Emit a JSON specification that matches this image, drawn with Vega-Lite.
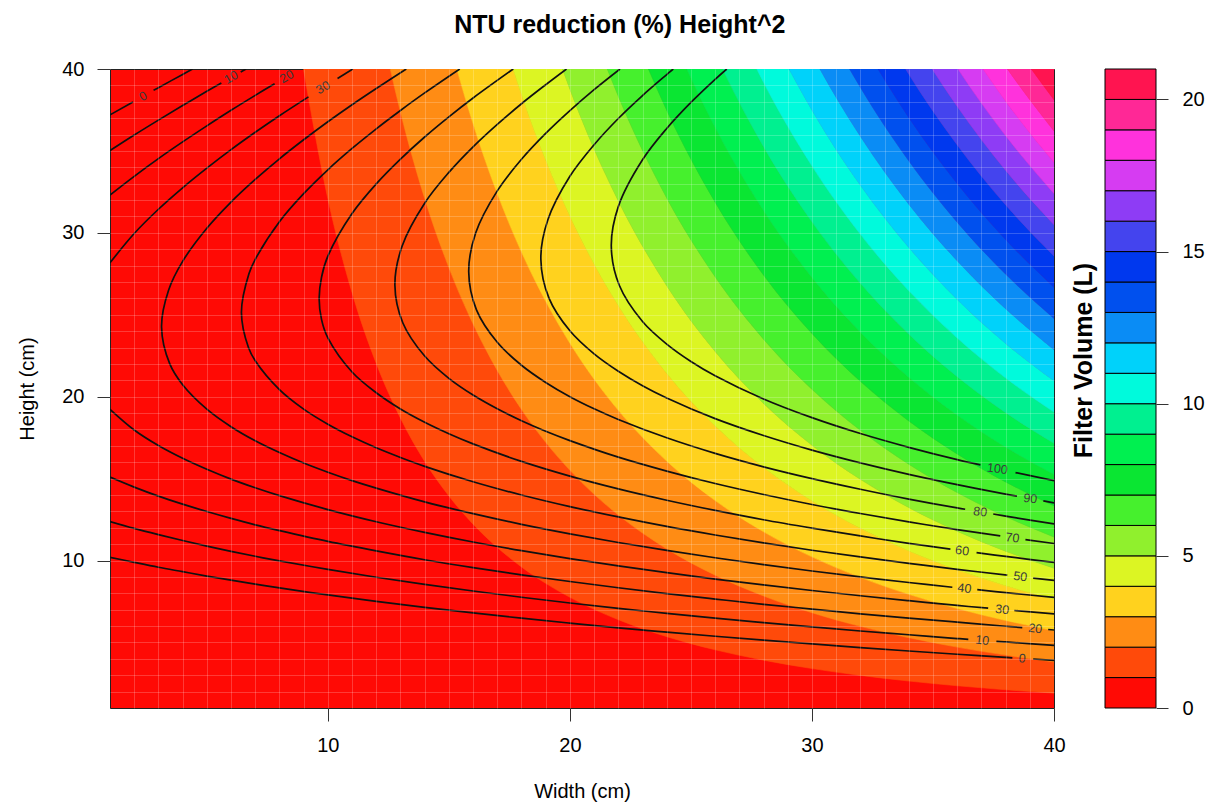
{
"$schema":"https://vega.github.io/schema/vega-lite/v6.json",
"padding":{"left":17,"top":12,"right":5,"bottom":5},
"config":{"font":"Liberation Sans","view":{"stroke":null}},
"title":{"text":"NTU reduction (%) Height^2","fontSize":25,"fontWeight":"bold","color":"#000000","anchor":"middle","offset":21,"dx":9},
"spacing":51,
"bounds":"flush",
"datasets":{
"bands":[
{"b":0,"w":9,"t":39.91},{"b":1,"w":9,"t":39.91},{"b":2,"w":9,"t":39.91},
{"b":0,"w":10,"t":32.08},{"b":1,"w":10,"t":32.08},{"b":2,"w":10,"t":32.08},
{"b":0,"w":11,"t":26.35},{"b":1,"w":11,"t":26.35},{"b":2,"w":11,"t":26.35},{"b":3,"w":11,"t":26.35},
{"b":0,"w":12,"t":22.03},{"b":1,"w":12,"t":22.03},{"b":2,"w":12,"t":22.03},{"b":3,"w":12,"t":22.03},
{"b":0,"w":13,"t":18.69},{"b":1,"w":13,"t":18.69},{"b":2,"w":13,"t":18.69},{"b":3,"w":13,"t":18.69},{"b":4,"w":13,"t":18.69},
{"b":0,"w":14,"t":16.05},{"b":1,"w":14,"t":16.05},{"b":2,"w":14,"t":16.05},{"b":3,"w":14,"t":16.05},{"b":4,"w":14,"t":16.05},
{"b":0,"w":15,"t":13.94},{"b":1,"w":15,"t":13.94},{"b":2,"w":15,"t":13.94},{"b":3,"w":15,"t":13.94},{"b":4,"w":15,"t":13.94},{"b":5,"w":15,"t":13.94},
{"b":0,"w":16,"t":12.22},{"b":1,"w":16,"t":12.22},{"b":2,"w":16,"t":12.22},{"b":3,"w":16,"t":12.22},{"b":4,"w":16,"t":12.22},{"b":5,"w":16,"t":12.22},{"b":6,"w":16,"t":12.22},
{"b":0,"w":17,"t":10.8},{"b":1,"w":17,"t":10.8},{"b":2,"w":17,"t":10.8},{"b":3,"w":17,"t":10.8},{"b":4,"w":17,"t":10.8},{"b":5,"w":17,"t":10.8},{"b":6,"w":17,"t":10.8},{"b":7,"w":17,"t":10.8},
{"b":0,"w":18,"t":9.608},{"b":1,"w":18,"t":9.608},{"b":2,"w":18,"t":9.608},{"b":3,"w":18,"t":9.608},{"b":4,"w":18,"t":9.608},{"b":5,"w":18,"t":9.608},{"b":6,"w":18,"t":9.608},{"b":7,"w":18,"t":9.608},{"b":8,"w":18,"t":9.608},
{"b":0,"w":19,"t":8.607},{"b":1,"w":19,"t":8.607},{"b":2,"w":19,"t":8.607},{"b":3,"w":19,"t":8.607},{"b":4,"w":19,"t":8.607},{"b":5,"w":19,"t":8.607},{"b":6,"w":19,"t":8.607},{"b":7,"w":19,"t":8.607},{"b":8,"w":19,"t":8.607},{"b":9,"w":19,"t":8.607},
{"b":0,"w":20,"t":7.754},{"b":1,"w":20,"t":7.754},{"b":2,"w":20,"t":7.754},{"b":3,"w":20,"t":7.754},{"b":4,"w":20,"t":7.754},{"b":5,"w":20,"t":7.754},{"b":6,"w":20,"t":7.754},{"b":7,"w":20,"t":7.754},{"b":8,"w":20,"t":7.754},{"b":9,"w":20,"t":7.754},{"b":10,"w":20,"t":7.754},
{"b":0,"w":21,"t":7.022},{"b":1,"w":21,"t":7.022},{"b":2,"w":21,"t":7.022},{"b":3,"w":21,"t":7.022},{"b":4,"w":21,"t":7.022},{"b":5,"w":21,"t":7.022},{"b":6,"w":21,"t":7.022},{"b":7,"w":21,"t":7.022},{"b":8,"w":21,"t":7.022},{"b":9,"w":21,"t":7.022},{"b":10,"w":21,"t":7.022},{"b":11,"w":21,"t":7.022},
{"b":0,"w":22,"t":6.389},{"b":1,"w":22,"t":6.389},{"b":2,"w":22,"t":6.389},{"b":3,"w":22,"t":6.389},{"b":4,"w":22,"t":6.389},{"b":5,"w":22,"t":6.389},{"b":6,"w":22,"t":6.389},{"b":7,"w":22,"t":6.389},{"b":8,"w":22,"t":6.389},{"b":9,"w":22,"t":6.389},{"b":10,"w":22,"t":6.389},{"b":11,"w":22,"t":6.389},{"b":12,"w":22,"t":6.389},
{"b":0,"w":24,"t":5.355},{"b":1,"w":24,"t":5.355},{"b":2,"w":24,"t":5.355},{"b":3,"w":24,"t":5.355},{"b":4,"w":24,"t":5.355},{"b":5,"w":24,"t":5.355},{"b":6,"w":24,"t":5.355},{"b":7,"w":24,"t":5.355},{"b":8,"w":24,"t":5.355},{"b":9,"w":24,"t":5.355},{"b":10,"w":24,"t":5.355},{"b":11,"w":24,"t":5.355},{"b":12,"w":24,"t":5.355},{"b":13,"w":24,"t":5.355},{"b":14,"w":24,"t":5.355},
{"b":0,"w":26,"t":4.553},{"b":1,"w":26,"t":4.553},{"b":2,"w":26,"t":4.553},{"b":3,"w":26,"t":4.553},{"b":4,"w":26,"t":4.553},{"b":5,"w":26,"t":4.553},{"b":6,"w":26,"t":4.553},{"b":7,"w":26,"t":4.553},{"b":8,"w":26,"t":4.553},{"b":9,"w":26,"t":4.553},{"b":10,"w":26,"t":4.553},{"b":11,"w":26,"t":4.553},{"b":12,"w":26,"t":4.553},{"b":13,"w":26,"t":4.553},{"b":14,"w":26,"t":4.553},{"b":15,"w":26,"t":4.553},{"b":16,"w":26,"t":4.553},{"b":17,"w":26,"t":4.553},
{"b":0,"w":28,"t":3.918},{"b":1,"w":28,"t":3.918},{"b":2,"w":28,"t":3.918},{"b":3,"w":28,"t":3.918},{"b":4,"w":28,"t":3.918},{"b":5,"w":28,"t":3.918},{"b":6,"w":28,"t":3.918},{"b":7,"w":28,"t":3.918},{"b":8,"w":28,"t":3.918},{"b":9,"w":28,"t":3.918},{"b":10,"w":28,"t":3.918},{"b":11,"w":28,"t":3.918},{"b":12,"w":28,"t":3.918},{"b":13,"w":28,"t":3.918},{"b":14,"w":28,"t":3.918},{"b":15,"w":28,"t":3.918},{"b":16,"w":28,"t":3.918},{"b":17,"w":28,"t":3.918},{"b":18,"w":28,"t":3.918},{"b":19,"w":28,"t":3.918},{"b":20,"w":28,"t":3.918},
{"b":0,"w":30,"t":3.408},{"b":1,"w":30,"t":3.408},{"b":2,"w":30,"t":3.408},{"b":3,"w":30,"t":3.408},{"b":4,"w":30,"t":3.408},{"b":5,"w":30,"t":3.408},{"b":6,"w":30,"t":3.408},{"b":7,"w":30,"t":3.408},{"b":8,"w":30,"t":3.408},{"b":9,"w":30,"t":3.408},{"b":10,"w":30,"t":3.408},{"b":11,"w":30,"t":3.408},{"b":12,"w":30,"t":3.408},{"b":13,"w":30,"t":3.408},{"b":14,"w":30,"t":3.408},{"b":15,"w":30,"t":3.408},{"b":16,"w":30,"t":3.408},{"b":17,"w":30,"t":3.408},{"b":18,"w":30,"t":3.408},{"b":19,"w":30,"t":3.408},{"b":20,"w":30,"t":3.408},
{"b":0,"w":32,"t":2.991},{"b":1,"w":32,"t":2.991},{"b":2,"w":32,"t":2.991},{"b":3,"w":32,"t":2.991},{"b":4,"w":32,"t":2.991},{"b":5,"w":32,"t":2.991},{"b":6,"w":32,"t":2.991},{"b":7,"w":32,"t":2.991},{"b":8,"w":32,"t":2.991},{"b":9,"w":32,"t":2.991},{"b":10,"w":32,"t":2.991},{"b":11,"w":32,"t":2.991},{"b":12,"w":32,"t":2.991},{"b":13,"w":32,"t":2.991},{"b":14,"w":32,"t":2.991},{"b":15,"w":32,"t":2.991},{"b":16,"w":32,"t":2.991},{"b":17,"w":32,"t":2.991},{"b":18,"w":32,"t":2.991},{"b":19,"w":32,"t":2.991},{"b":20,"w":32,"t":2.991},
{"b":0,"w":34,"t":2.646},{"b":1,"w":34,"t":2.646},{"b":2,"w":34,"t":2.646},{"b":3,"w":34,"t":2.646},{"b":4,"w":34,"t":2.646},{"b":5,"w":34,"t":2.646},{"b":6,"w":34,"t":2.646},{"b":7,"w":34,"t":2.646},{"b":8,"w":34,"t":2.646},{"b":9,"w":34,"t":2.646},{"b":10,"w":34,"t":2.646},{"b":11,"w":34,"t":2.646},{"b":12,"w":34,"t":2.646},{"b":13,"w":34,"t":2.646},{"b":14,"w":34,"t":2.646},{"b":15,"w":34,"t":2.646},{"b":16,"w":34,"t":2.646},{"b":17,"w":34,"t":2.646},{"b":18,"w":34,"t":2.646},{"b":19,"w":34,"t":2.646},{"b":20,"w":34,"t":2.646},
{"b":0,"w":36,"t":2.358},{"b":1,"w":36,"t":2.358},{"b":2,"w":36,"t":2.358},{"b":3,"w":36,"t":2.358},{"b":4,"w":36,"t":2.358},{"b":5,"w":36,"t":2.358},{"b":6,"w":36,"t":2.358},{"b":7,"w":36,"t":2.358},{"b":8,"w":36,"t":2.358},{"b":9,"w":36,"t":2.358},{"b":10,"w":36,"t":2.358},{"b":11,"w":36,"t":2.358},{"b":12,"w":36,"t":2.358},{"b":13,"w":36,"t":2.358},{"b":14,"w":36,"t":2.358},{"b":15,"w":36,"t":2.358},{"b":16,"w":36,"t":2.358},{"b":17,"w":36,"t":2.358},{"b":18,"w":36,"t":2.358},{"b":19,"w":36,"t":2.358},{"b":20,"w":36,"t":2.358},
{"b":0,"w":38,"t":2.114},{"b":1,"w":38,"t":2.114},{"b":2,"w":38,"t":2.114},{"b":3,"w":38,"t":2.114},{"b":4,"w":38,"t":2.114},{"b":5,"w":38,"t":2.114},{"b":6,"w":38,"t":2.114},{"b":7,"w":38,"t":2.114},{"b":8,"w":38,"t":2.114},{"b":9,"w":38,"t":2.114},{"b":10,"w":38,"t":2.114},{"b":11,"w":38,"t":2.114},{"b":12,"w":38,"t":2.114},{"b":13,"w":38,"t":2.114},{"b":14,"w":38,"t":2.114},{"b":15,"w":38,"t":2.114},{"b":16,"w":38,"t":2.114},{"b":17,"w":38,"t":2.114},{"b":18,"w":38,"t":2.114},{"b":19,"w":38,"t":2.114},{"b":20,"w":38,"t":2.114},
{"b":0,"w":40,"t":1.906},{"b":1,"w":40,"t":1.906},{"b":2,"w":40,"t":1.906},{"b":3,"w":40,"t":1.906},{"b":4,"w":40,"t":1.906},{"b":5,"w":40,"t":1.906},{"b":6,"w":40,"t":1.906},{"b":7,"w":40,"t":1.906},{"b":8,"w":40,"t":1.906},{"b":9,"w":40,"t":1.906},{"b":10,"w":40,"t":1.906},{"b":11,"w":40,"t":1.906},{"b":12,"w":40,"t":1.906},{"b":13,"w":40,"t":1.906},{"b":14,"w":40,"t":1.906},{"b":15,"w":40,"t":1.906},{"b":16,"w":40,"t":1.906},{"b":17,"w":40,"t":1.906},{"b":18,"w":40,"t":1.906},{"b":19,"w":40,"t":1.906},{"b":20,"w":40,"t":1.906}
],
"lines":[
{"s":"0a","i":1,"w":1,"h":37.2},{"s":"0a","i":2,"w":1.95,"h":37.99},
{"s":"0b","i":3,"w":2.8,"h":38.7},{"s":"0b","i":4,"w":3,"h":38.86},{"s":"0b","i":5,"w":4,"h":39.67},{"s":"0b","i":6,"w":4.41,"h":40},
{"s":"0c","i":7,"w":1,"h":10.2},{"s":"0c","i":8,"w":2,"h":9.89},{"s":"0c","i":9,"w":3,"h":9.59},{"s":"0c","i":10,"w":4,"h":9.32},{"s":"0c","i":11,"w":5,"h":9.05},{"s":"0c","i":12,"w":6,"h":8.8},{"s":"0c","i":13,"w":7,"h":8.56},{"s":"0c","i":14,"w":8,"h":8.33},{"s":"0c","i":15,"w":10,"h":7.9},{"s":"0c","i":16,"w":12,"h":7.51},{"s":"0c","i":17,"w":14,"h":7.14},{"s":"0c","i":18,"w":16,"h":6.8},{"s":"0c","i":19,"w":18,"h":6.48},{"s":"0c","i":20,"w":20,"h":6.18},{"s":"0c","i":21,"w":22,"h":5.89},{"s":"0c","i":22,"w":24,"h":5.63},{"s":"0c","i":23,"w":26,"h":5.38},{"s":"0c","i":24,"w":28,"h":5.14},{"s":"0c","i":25,"w":30,"h":4.91},{"s":"0c","i":26,"w":32,"h":4.69},{"s":"0c","i":27,"w":34,"h":4.48},{"s":"0c","i":28,"w":36,"h":4.28},{"s":"0c","i":29,"w":38,"h":4.09},{"s":"0c","i":30,"w":38.28,"h":4.06},
{"s":"0d","i":31,"w":39.14,"h":3.99},{"s":"0d","i":32,"w":40,"h":3.91},
{"s":"10a","i":33,"w":1,"h":35.02},{"s":"10a","i":34,"w":2,"h":35.97},{"s":"10a","i":35,"w":3,"h":36.88},{"s":"10a","i":36,"w":4,"h":37.77},{"s":"10a","i":37,"w":5,"h":38.64},{"s":"10a","i":38,"w":5.6,"h":39.15},
{"s":"10b","i":39,"w":6.4,"h":39.82},{"s":"10b","i":40,"w":6.62,"h":40},
{"s":"10c","i":41,"w":1,"h":12.38},{"s":"10c","i":42,"w":2,"h":11.96},{"s":"10c","i":43,"w":3,"h":11.58},{"s":"10c","i":44,"w":4,"h":11.22},{"s":"10c","i":45,"w":5,"h":10.88},{"s":"10c","i":46,"w":6,"h":10.56},{"s":"10c","i":47,"w":7,"h":10.26},{"s":"10c","i":48,"w":8,"h":9.98},{"s":"10c","i":49,"w":10,"h":9.46},{"s":"10c","i":50,"w":12,"h":8.98},{"s":"10c","i":51,"w":14,"h":8.54},{"s":"10c","i":52,"w":16,"h":8.14},{"s":"10c","i":53,"w":18,"h":7.76},{"s":"10c","i":54,"w":20,"h":7.41},{"s":"10c","i":55,"w":22,"h":7.08},{"s":"10c","i":56,"w":24,"h":6.78},{"s":"10c","i":57,"w":26,"h":6.48},{"s":"10c","i":58,"w":28,"h":6.21},{"s":"10c","i":59,"w":30,"h":5.95},{"s":"10c","i":60,"w":32,"h":5.7},{"s":"10c","i":61,"w":34,"h":5.47},{"s":"10c","i":62,"w":36,"h":5.24},{"s":"10c","i":63,"w":36.46,"h":5.19},
{"s":"10d","i":64,"w":37.62,"h":5.07},{"s":"10d","i":65,"w":38,"h":5.03},{"s":"10d","i":66,"w":40,"h":4.82},
{"s":"20a","i":67,"w":1,"h":32.31},{"s":"20a","i":68,"w":2,"h":33.45},{"s":"20a","i":69,"w":3,"h":34.53},{"s":"20a","i":70,"w":4,"h":35.55},{"s":"20a","i":71,"w":5,"h":36.53},{"s":"20a","i":72,"w":6,"h":37.48},{"s":"20a","i":73,"w":7,"h":38.39},{"s":"20a","i":74,"w":7.8,"h":39.1},
{"s":"20c","i":75,"w":1,"h":15.09},{"s":"20c","i":76,"w":2,"h":14.48},{"s":"20c","i":77,"w":3,"h":13.93},{"s":"20c","i":78,"w":4,"h":13.44},{"s":"20c","i":79,"w":5,"h":12.99},{"s":"20c","i":80,"w":6,"h":12.57},{"s":"20c","i":81,"w":7,"h":12.18},{"s":"20c","i":82,"w":8,"h":11.83},{"s":"20c","i":83,"w":10,"h":11.17},{"s":"20c","i":84,"w":12,"h":10.59},{"s":"20c","i":85,"w":14,"h":10.05},{"s":"20c","i":86,"w":16,"h":9.57},{"s":"20c","i":87,"w":18,"h":9.13},{"s":"20c","i":88,"w":20,"h":8.72},{"s":"20c","i":89,"w":22,"h":8.34},{"s":"20c","i":90,"w":24,"h":7.98},{"s":"20c","i":91,"w":26,"h":7.65},{"s":"20c","i":92,"w":28,"h":7.33},{"s":"20c","i":93,"w":30,"h":7.04},{"s":"20c","i":94,"w":32,"h":6.75},{"s":"20c","i":95,"w":34,"h":6.49},{"s":"20c","i":96,"w":36,"h":6.24},{"s":"20c","i":97,"w":38,"h":5.99},{"s":"20c","i":98,"w":38.69,"h":5.91},
{"s":"20d","i":99,"w":39.76,"h":5.79},{"s":"20d","i":100,"w":40,"h":5.76},
{"s":"30a","i":101,"w":1,"h":28.17},{"s":"30a","i":102,"w":2,"h":29.96},{"s":"30a","i":103,"w":3,"h":31.44},{"s":"30a","i":104,"w":4,"h":32.75},{"s":"30a","i":105,"w":5,"h":33.95},{"s":"30a","i":106,"w":6,"h":35.08},{"s":"30a","i":107,"w":7,"h":36.14},{"s":"30a","i":108,"w":8,"h":37.15},{"s":"30a","i":109,"w":9.2,"h":38.3},
{"s":"30b","i":110,"w":10.4,"h":39.42},{"s":"30b","i":111,"w":11.03,"h":40},
{"s":"30c","i":112,"w":1,"h":19.23},{"s":"30c","i":113,"w":2,"h":17.97},{"s":"30c","i":114,"w":3,"h":17.02},{"s":"30c","i":115,"w":4,"h":16.24},{"s":"30c","i":116,"w":5,"h":15.57},{"s":"30c","i":117,"w":6,"h":14.97},{"s":"30c","i":118,"w":7,"h":14.44},{"s":"30c","i":119,"w":8,"h":13.96},{"s":"30c","i":120,"w":10,"h":13.11},{"s":"30c","i":121,"w":12,"h":12.37},{"s":"30c","i":122,"w":14,"h":11.72},{"s":"30c","i":123,"w":16,"h":11.13},{"s":"30c","i":124,"w":18,"h":10.6},{"s":"30c","i":125,"w":20,"h":10.12},{"s":"30c","i":126,"w":22,"h":9.67},{"s":"30c","i":127,"w":24,"h":9.26},{"s":"30c","i":128,"w":26,"h":8.87},{"s":"30c","i":129,"w":28,"h":8.51},{"s":"30c","i":130,"w":30,"h":8.17},{"s":"30c","i":131,"w":32,"h":7.85},{"s":"30c","i":132,"w":34,"h":7.55},{"s":"30c","i":133,"w":36,"h":7.26},{"s":"30c","i":134,"w":37.28,"h":7.09},
{"s":"30d","i":135,"w":38.36,"h":6.95},{"s":"30d","i":136,"w":40,"h":6.74},
{"s":"40a","i":137,"w":13.24,"h":40},{"s":"40a","i":138,"w":12,"h":38.81},{"s":"40a","i":139,"w":11,"h":37.82},{"s":"40a","i":140,"w":10,"h":36.78},{"s":"40a","i":141,"w":9,"h":35.68},{"s":"40a","i":142,"w":8,"h":34.52},{"s":"40a","i":143,"w":7,"h":33.26},{"s":"40a","i":144,"w":6,"h":31.88},{"s":"40a","i":145,"w":5,"h":30.28},{"s":"40a","i":146,"w":4,"h":28.26},{"s":"40a","i":147,"w":3.42,"h":26.5},{"s":"40a","i":148,"w":3.13,"h":24.26},{"s":"40a","i":149,"w":3.47,"h":22},{"s":"40a","i":150,"w":4,"h":20.73},{"s":"40a","i":151,"w":5,"h":19.24},{"s":"40a","i":152,"w":6,"h":18.17},{"s":"40a","i":153,"w":7,"h":17.31},{"s":"40a","i":154,"w":8,"h":16.59},{"s":"40a","i":155,"w":9,"h":15.95},{"s":"40a","i":156,"w":10,"h":15.39},{"s":"40a","i":157,"w":11,"h":14.88},{"s":"40a","i":158,"w":12,"h":14.42},{"s":"40a","i":159,"w":14,"h":13.58},{"s":"40a","i":160,"w":16,"h":12.86},{"s":"40a","i":161,"w":18,"h":12.21},{"s":"40a","i":162,"w":20,"h":11.63},{"s":"40a","i":163,"w":22,"h":11.1},{"s":"40a","i":164,"w":24,"h":10.62},{"s":"40a","i":165,"w":26,"h":10.17},{"s":"40a","i":166,"w":28,"h":9.75},{"s":"40a","i":167,"w":30,"h":9.36},{"s":"40a","i":168,"w":32,"h":9.0},{"s":"40a","i":169,"w":34,"h":8.66},{"s":"40a","i":170,"w":35.8,"h":8.37},
{"s":"40b","i":171,"w":36.83,"h":8.22},{"s":"40b","i":172,"w":38,"h":8.04},{"s":"40b","i":173,"w":40,"h":7.75},
{"s":"50a","i":174,"w":15.45,"h":40},{"s":"50a","i":175,"w":14,"h":38.54},{"s":"50a","i":176,"w":13,"h":37.47},{"s":"50a","i":177,"w":12,"h":36.35},{"s":"50a","i":178,"w":11,"h":35.15},{"s":"50a","i":179,"w":10,"h":33.85},{"s":"50a","i":180,"w":9,"h":32.39},{"s":"50a","i":181,"w":8,"h":30.68},{"s":"50a","i":182,"w":7,"h":28.38},{"s":"50a","i":183,"w":6.74,"h":27.5},{"s":"50a","i":184,"w":6.43,"h":25.14},{"s":"50a","i":185,"w":6.72,"h":23},{"s":"50a","i":186,"w":7,"h":22.19},{"s":"50a","i":187,"w":8,"h":20.43},{"s":"50a","i":188,"w":9,"h":19.24},{"s":"50a","i":189,"w":10,"h":18.32},{"s":"50a","i":190,"w":11,"h":17.55},{"s":"50a","i":191,"w":12,"h":16.88},{"s":"50a","i":192,"w":13,"h":16.29},{"s":"50a","i":193,"w":14,"h":15.75},{"s":"50a","i":194,"w":16,"h":14.81},{"s":"50a","i":195,"w":18,"h":14.0},{"s":"50a","i":196,"w":20,"h":13.29},{"s":"50a","i":197,"w":22,"h":12.66},{"s":"50a","i":198,"w":24,"h":12.08},{"s":"50a","i":199,"w":26,"h":11.56},{"s":"50a","i":200,"w":28,"h":11.08},{"s":"50a","i":201,"w":30,"h":10.63},{"s":"50a","i":202,"w":32,"h":10.22},{"s":"50a","i":203,"w":34,"h":9.83},{"s":"50a","i":204,"w":36,"h":9.46},{"s":"50a","i":205,"w":38.07,"h":9.11},
{"s":"50b","i":206,"w":39.14,"h":8.93},{"s":"50b","i":207,"w":40,"h":8.79},
{"s":"60a","i":208,"w":17.66,"h":40},{"s":"60a","i":209,"w":16,"h":38.23},{"s":"60a","i":210,"w":15,"h":37.08},{"s":"60a","i":211,"w":14,"h":35.85},{"s":"60a","i":212,"w":13,"h":34.5},{"s":"60a","i":213,"w":12,"h":32.99},{"s":"60a","i":214,"w":11,"h":31.18},{"s":"60a","i":215,"w":10,"h":28.58},{"s":"60a","i":216,"w":9.74,"h":27.3},{"s":"60a","i":217,"w":9.64,"h":25.99},{"s":"60a","i":218,"w":9.74,"h":24.7},{"s":"60a","i":219,"w":10,"h":23.59},{"s":"60a","i":220,"w":11,"h":21.51},{"s":"60a","i":221,"w":12,"h":20.24},{"s":"60a","i":222,"w":13,"h":19.25},{"s":"60a","i":223,"w":14,"h":18.44},{"s":"60a","i":224,"w":15,"h":17.74},{"s":"60a","i":225,"w":16,"h":17.12},{"s":"60a","i":226,"w":18,"h":16.05},{"s":"60a","i":227,"w":20,"h":15.15},{"s":"60a","i":228,"w":22,"h":14.37},{"s":"60a","i":229,"w":24,"h":13.68},{"s":"60a","i":230,"w":26,"h":13.06},{"s":"60a","i":231,"w":28,"h":12.49},{"s":"60a","i":232,"w":30,"h":11.98},{"s":"60a","i":233,"w":32,"h":11.5},{"s":"60a","i":234,"w":34,"h":11.05},{"s":"60a","i":235,"w":35.72,"h":10.7},
{"s":"60b","i":236,"w":36.8,"h":10.48},{"s":"60b","i":237,"w":38,"h":10.25},{"s":"60b","i":238,"w":40,"h":9.89},
{"s":"70a","i":239,"w":19.86,"h":40},{"s":"70a","i":240,"w":19,"h":39.04},{"s":"70a","i":241,"w":18,"h":37.88},{"s":"70a","i":242,"w":17,"h":36.62},{"s":"70a","i":243,"w":16,"h":35.25},{"s":"70a","i":244,"w":15,"h":33.69},{"s":"70a","i":245,"w":14,"h":31.81},{"s":"70a","i":246,"w":13.07,"h":29.2},{"s":"70a","i":247,"w":12.77,"h":26.82},{"s":"70a","i":248,"w":13.1,"h":24.5},{"s":"70a","i":249,"w":14,"h":22.48},{"s":"70a","i":250,"w":15,"h":21.12},{"s":"70a","i":251,"w":16,"h":20.1},{"s":"70a","i":252,"w":17,"h":19.26},{"s":"70a","i":253,"w":18,"h":18.53},{"s":"70a","i":254,"w":19,"h":17.89},{"s":"70a","i":255,"w":20,"h":17.32},{"s":"70a","i":256,"w":22,"h":16.31},{"s":"70a","i":257,"w":24,"h":15.46},{"s":"70a","i":258,"w":26,"h":14.7},{"s":"70a","i":259,"w":28,"h":14.03},{"s":"70a","i":260,"w":30,"h":13.42},{"s":"70a","i":261,"w":32,"h":12.87},{"s":"70a","i":262,"w":34,"h":12.36},{"s":"70a","i":263,"w":36,"h":11.89},{"s":"70a","i":264,"w":37.78,"h":11.5},
{"s":"70b","i":265,"w":38.82,"h":11.28},{"s":"70b","i":266,"w":40,"h":11.04},
{"s":"80a","i":267,"w":22.07,"h":40},{"s":"80a","i":268,"w":21,"h":38.74},{"s":"80a","i":269,"w":20,"h":37.46},{"s":"80a","i":270,"w":19,"h":36.07},{"s":"80a","i":271,"w":18,"h":34.49},{"s":"80a","i":272,"w":17,"h":32.56},{"s":"80a","i":273,"w":16.11,"h":30},{"s":"80a","i":274,"w":15.82,"h":27.62},{"s":"80a","i":275,"w":16.14,"h":25.3},{"s":"80a","i":276,"w":17,"h":23.32},{"s":"80a","i":277,"w":18,"h":21.92},{"s":"80a","i":278,"w":19,"h":20.87},{"s":"80a","i":279,"w":20,"h":20.0},{"s":"80a","i":280,"w":21,"h":19.26},{"s":"80a","i":281,"w":22,"h":18.61},{"s":"80a","i":282,"w":24,"h":17.49},{"s":"80a","i":283,"w":26,"h":16.54},{"s":"80a","i":284,"w":28,"h":15.72},{"s":"80a","i":285,"w":30,"h":15.0},{"s":"80a","i":286,"w":32,"h":14.35},{"s":"80a","i":287,"w":34,"h":13.75},{"s":"80a","i":288,"w":36,"h":13.21},{"s":"80a","i":289,"w":36.33,"h":13.13},
{"s":"80b","i":290,"w":37.49,"h":12.84},{"s":"80b","i":291,"w":38,"h":12.71},{"s":"80b","i":292,"w":40,"h":12.24},
{"s":"90a","i":293,"w":24.27,"h":40},{"s":"90a","i":294,"w":24,"h":39.66},{"s":"90a","i":295,"w":23,"h":38.38},{"s":"90a","i":296,"w":22,"h":36.98},{"s":"90a","i":297,"w":21,"h":35.38},{"s":"90a","i":298,"w":20,"h":33.45},{"s":"90a","i":299,"w":19.09,"h":30.8},{"s":"90a","i":300,"w":18.8,"h":28.41},{"s":"90a","i":301,"w":19.14,"h":26},{"s":"90a","i":302,"w":20,"h":24.02},{"s":"90a","i":303,"w":21,"h":22.61},{"s":"90a","i":304,"w":22,"h":21.55},{"s":"90a","i":305,"w":23,"h":20.67},{"s":"90a","i":306,"w":24,"h":19.92},{"s":"90a","i":307,"w":26,"h":18.66},{"s":"90a","i":308,"w":28,"h":17.63},{"s":"90a","i":309,"w":30,"h":16.74},{"s":"90a","i":310,"w":32,"h":15.96},{"s":"90a","i":311,"w":34,"h":15.26},{"s":"90a","i":312,"w":36,"h":14.63},{"s":"90a","i":313,"w":38,"h":14.05},{"s":"90a","i":314,"w":38.47,"h":13.93},
{"s":"90b","i":315,"w":39.56,"h":13.64},{"s":"90b","i":316,"w":40,"h":13.52},
{"s":"100a","i":317,"w":26.48,"h":40},{"s":"100a","i":318,"w":26,"h":39.37},{"s":"100a","i":319,"w":25,"h":37.96},{"s":"100a","i":320,"w":24,"h":36.37},{"s":"100a","i":321,"w":23,"h":34.46},{"s":"100a","i":322,"w":22,"h":31.6},{"s":"100a","i":323,"w":21.71,"h":29.19},{"s":"100a","i":324,"w":22.04,"h":26.8},{"s":"100a","i":325,"w":23,"h":24.59},{"s":"100a","i":326,"w":24,"h":23.21},{"s":"100a","i":327,"w":25,"h":22.15},{"s":"100a","i":328,"w":26,"h":21.28},{"s":"100a","i":329,"w":28,"h":19.86},{"s":"100a","i":330,"w":30,"h":18.72},{"s":"100a","i":331,"w":32,"h":17.75},{"s":"100a","i":332,"w":34,"h":16.91},{"s":"100a","i":333,"w":36,"h":16.16},{"s":"100a","i":334,"w":36.96,"h":15.84},
{"s":"100b","i":335,"w":38.41,"h":15.37},{"s":"100b","i":336,"w":40,"h":14.88}
],
"labtop":[
{"t":"0","w":2.37,"h":38.34},{"t":"10","w":6.0,"h":39.49},{"t":"20","w":8.3,"h":39.54},{"t":"30","w":9.8,"h":38.87}
],
"labright":[
{"t":"0","w":38.69,"h":4.03},{"t":"10","w":37.04,"h":5.13},{"t":"20","w":39.23,"h":5.85},{"t":"30","w":37.86,"h":7.01},{"t":"40","w":36.3,"h":8.3},{"t":"50","w":38.61,"h":9.02},{"t":"60","w":36.21,"h":10.6},{"t":"70","w":38.28,"h":11.39},{"t":"80","w":36.95,"h":12.97},{"t":"90","w":39.02,"h":13.78},{"t":"100","w":37.66,"h":15.6}
],
"bar":[
{"b":0,"v0":0,"v1":1},{"b":1,"v0":1,"v1":2},{"b":2,"v0":2,"v1":3},{"b":3,"v0":3,"v1":4},{"b":4,"v0":4,"v1":5},{"b":5,"v0":5,"v1":6},{"b":6,"v0":6,"v1":7},{"b":7,"v0":7,"v1":8},{"b":8,"v0":8,"v1":9},{"b":9,"v0":9,"v1":10},{"b":10,"v0":10,"v1":11},{"b":11,"v0":11,"v1":12},{"b":12,"v0":12,"v1":13},{"b":13,"v0":13,"v1":14},{"b":14,"v0":14,"v1":15},{"b":15,"v0":15,"v1":16},{"b":16,"v0":16,"v1":17},{"b":17,"v0":17,"v1":18},{"b":18,"v0":18,"v1":19},{"b":19,"v0":19,"v1":20},{"b":20,"v0":20,"v1":21}
]
},
"hconcat":[
{
"width":944,"height":639,
"view":{"fill":"#FF0A05","stroke":"#222222","strokeWidth":1},
"resolve":{"axis":{"x":"independent","y":"independent"}},
"layer":[
{
"data":{"name":"bands"},
"mark":{"type":"area","interpolate":"monotone","clip":true,"strokeWidth":0.6},
"encoding":{
"x":{"field":"w","type":"quantitative","scale":{"domain":[1,40],"nice":false,"zero":false},
"axis":{"orient":"top","values":[2,3,4,5,6,7,8,9,10,11,12,13,14,15,16,17,18,19,20,21,22,23,24,25,26,27,28,29,30,31,32,33,34,35,36,37,38,39],"grid":true,"gridColor":"#ffffff","gridWidth":1,"gridOpacity":0.2,"labels":false,"ticks":false,"domain":false,"title":null,"zindex":1}},
"y":{"field":"t","type":"quantitative","stack":"zero","scale":{"domain":[1,40],"nice":false,"zero":false},
"axis":{"orient":"right","values":[2,3,4,5,6,7,8,9,10,11,12,13,14,15,16,17,18,19,20,21,22,23,24,25,26,27,28,29,30,31,32,33,34,35,36,37,38,39],"grid":true,"gridColor":"#ffffff","gridWidth":1,"gridOpacity":0.2,"labels":false,"ticks":false,"domain":false,"title":null,"zindex":1}},
"color":{"field":"b","type":"ordinal","legend":null,"scale":{"domain":[0,1,2,3,4,5,6,7,8,9,10,11,12,13,14,15,16,17,18,19,20],"range":["#FF0A05","#FF4A0A","#FF8C14","#FFD21E","#DCF523","#90F02D","#46F02D","#0AE632","#00F050","#00F090","#00FADC","#00D2FA","#0A8CF5","#0050EE","#0038EE","#4444EE","#8E3CF5","#D63CF2","#FF32DC","#FF2896","#FF1450"]}},
"stroke":{"field":"b","type":"ordinal","legend":null,"scale":{"domain":[0,1,2,3,4,5,6,7,8,9,10,11,12,13,14,15,16,17,18,19,20],"range":["#FF0A05","#FF4A0A","#FF8C14","#FFD21E","#DCF523","#90F02D","#46F02D","#0AE632","#00F050","#00F090","#00FADC","#00D2FA","#0A8CF5","#0050EE","#0038EE","#4444EE","#8E3CF5","#D63CF2","#FF32DC","#FF2896","#FF1450"]}},
"order":{"field":"b","type":"quantitative","sort":"ascending"}
}
},
{
"data":{"name":"lines"},
"mark":{"type":"line","interpolate":"catmull-rom","clip":true,"color":"#111111","strokeWidth":1.7},
"encoding":{
"x":{"field":"w","type":"quantitative","title":"Width (cm)",
"axis":{"orient":"bottom","values":[10,20,30,40],"grid":false,"tickSize":13,"tickColor":"#333333","labelPadding":14,"labelFontSize":20,"labelColor":"#000000","labelFlush":false,"domain":false,"titleFontSize":20,"titleFontWeight":"normal","titleColor":"#000000","titlePadding":26}},
"y":{"field":"h","type":"quantitative","title":"Height (cm)",
"axis":{"orient":"left","values":[10,20,30,40],"grid":false,"tickSize":13,"tickColor":"#333333","labelPadding":13,"labelFontSize":20,"labelColor":"#000000","labelFlush":false,"domain":false,"titleFontSize":20,"titleFontWeight":"normal","titleColor":"#000000","titlePadding":24}},
"detail":{"field":"s","type":"nominal"},
"order":{"field":"i","type":"quantitative"}
}
},
{
"data":{"name":"labtop"},
"mark":{"type":"text","fontSize":12.5,"color":"#3a3a3a","angle":331,"align":"center","baseline":"middle"},
"encoding":{
"x":{"field":"w","type":"quantitative","axis":null},
"y":{"field":"h","type":"quantitative","axis":null},
"text":{"field":"t","type":"nominal"}
}
},
{
"data":{"name":"labright"},
"mark":{"type":"text","fontSize":12.5,"color":"#3a3a3a","angle":7,"align":"center","baseline":"middle"},
"encoding":{
"x":{"field":"w","type":"quantitative","axis":null},
"y":{"field":"h","type":"quantitative","axis":null},
"text":{"field":"t","type":"nominal"}
}
}
]
},
{
"width":51,"height":639,
"data":{"name":"bar"},
"title":{"text":"Filter Volume (L)","orient":"left","fontSize":25,"fontWeight":"bold","color":"#000000","anchor":"middle","offset":8,"dx":28},
"mark":{"type":"rect","stroke":"#000000","strokeWidth":1},
"encoding":{
"y":{"field":"v0","type":"quantitative","scale":{"domain":[0,21],"nice":false,"zero":false},"axis":{"orient":"right","values":[0,5,10,15,20],"tickSize":12,"tickColor":"#333333","labelPadding":14,"labelFontSize":20,"labelColor":"#000000","labelFlush":false,"domain":false,"grid":false,"title":null}},
"y2":{"field":"v1"},
"color":{"field":"b","type":"ordinal","legend":null,"scale":{"domain":[0,1,2,3,4,5,6,7,8,9,10,11,12,13,14,15,16,17,18,19,20],"range":["#FF0A05","#FF4A0A","#FF8C14","#FFD21E","#DCF523","#90F02D","#46F02D","#0AE632","#00F050","#00F090","#00FADC","#00D2FA","#0A8CF5","#0050EE","#0038EE","#4444EE","#8E3CF5","#D63CF2","#FF32DC","#FF2896","#FF1450"]}}
}
}
]
}
